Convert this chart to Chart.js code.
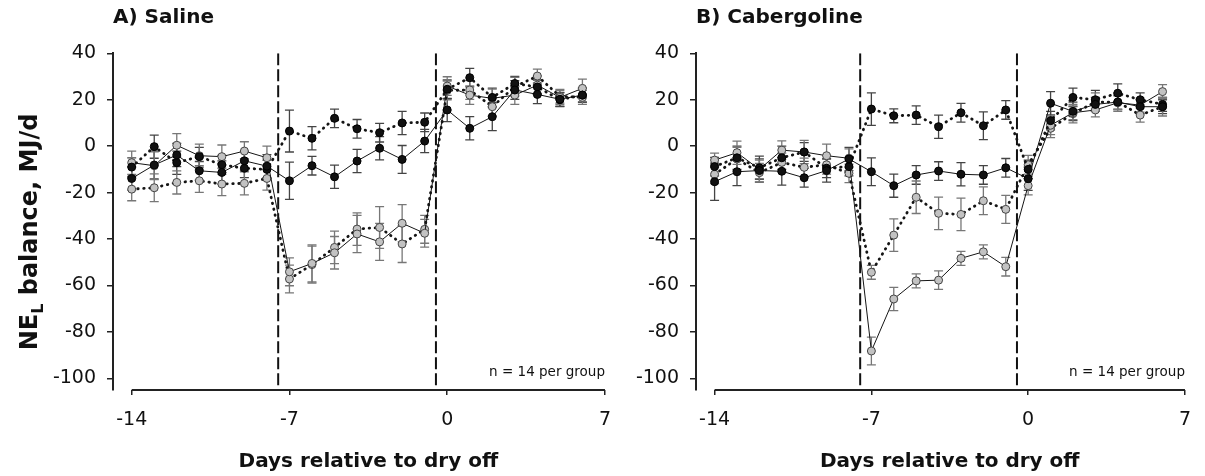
<!DOCTYPE html>
<html>
<head>
<meta charset="utf-8">
<title>NEL balance around dry off</title>
<script src="https://cdn.jsdelivr.net/npm/chart.js@4.4.0/dist/chart.umd.min.js"></script>
<style>
  body { margin: 0; background: #fff; }
  #wrap { position: relative; width: 1205px; height: 476px; }
  canvas { position: absolute; top: 0; }
  #chartA { left: 0; }
  #chartB { left: 625px; }
</style>
</head>
<body>
<div id="wrap">
  <canvas id="chartA" width="625" height="476"></canvas>
  <canvas id="chartB" width="580" height="476"></canvas>
</div>
<script>
// days relative to dry off
const days = [-14, -13, -12, -11, -10, -9, -8, -7, -6, -5, -4, -3, -2, -1, 0, 1, 2, 3, 4, 5, 6];
const xTicks = [-14, -7, 0, 7];
const yTicks = [-100, -80, -60, -40, -20, 0, 20, 40];
const periodMarks = [-7.5, -0.5];

// A) Saline
const salineBlackSolid = [-13.9, -8.1, -3.8, -10.6, -11.3, -6.3, -8.6, -14.9, -8.4, -13.2, -6.4, -0.9, -5.7, 2.2, 15.6, 7.7, 12.7, 24.2, 22.3, 20.2, 22];
const salineBlackSolidSem = [5, 6, 5, 4, 5, 4, 5, 8, 4, 5, 5, 5, 6, 5, 5, 5, 6, 4, 4, 3, 3];
const salineBlackDotted = [-9, -0.2, -7.1, -4.5, -8, -9.5, -10, 6.5, 3.4, 12, 7.5, 5.8, 10, 10.3, 24.5, 29.5, 21, 27, 25.5, 20, 22];
const salineBlackDottedSem = [4, 5, 5, 4, 4, 4, 4, 9, 5, 4, 4, 4, 5, 4, 4, 4, 4, 3, 3, 3, 3];
const salineGraySolid = [-7.1, -8.4, 0.4, -4.1, -4.5, -2.1, -5.0, -54.1, -50.5, -45.9, -37.8, -41.2, -33.2, -37.5, 25.9, 22, 20.6, 22, 26.3, 21, 24.9];
const salineGraySolidSem = [5, 6, 5, 5, 5, 4, 5, 6, 8, 7, 8, 8, 8, 6, 4, 4, 4, 4, 4, 3, 4];
const salineGrayDotted = [-18.5, -17.9, -15.6, -14.9, -16.3, -16, -13.9, -57.2, -51, -43.6, -35.7, -35, -42.1, -35.8, 24, 24.2, 17, 25.6, 30.2, 21.5, 21];
const salineGrayDottedSem = [5, 6, 5, 5, 5, 5, 5, 6, 8, 7, 7, 9, 8, 6, 4, 4, 4, 4, 3, 3, 3];

// B) Cabergoline
const caberBlackSolid = [-15.3, -11, -10.5, -10.8, -13.6, -10.5, -5.5, -11, -17, -12.4, -10.7, -12.1, -12.4, -9.3, -14, 18.5, 15, 18, 19, 17, 17];
const caberBlackSolidSem = [8, 6, 5, 6, 4, 5, 5, 6, 5, 4, 4, 5, 4, 4, 5, 5, 4, 3, 3, 3, 3];
const caberBlackDotted = [-8.8, -5, -9.3, -5, -2.5, -9.5, -8.8, 16, 13.1, 13.4, 8.4, 14.4, 8.8, 15.6, -10, 11, 21, 20, 22.8, 20, 18];
const caberBlackDottedSem = [4, 5, 5, 5, 4, 4, 4, 7, 3, 4, 5, 4, 6, 4, 4, 4, 4, 4, 4, 3, 3];
const caberGraySolid = [-6, -2.8, -10, -1.7, -2.5, -4.1, -5.2, -88.2, -65.8, -58, -57.7, -48.3, -45.5, -51.9, -17, 9, 14.4, 15.6, 18.7, 17.7, 23.5];
const caberGraySolidSem = [3, 5, 4, 4, 5, 5, 4, 6, 5, 3, 4, 3, 3, 4, 4, 4, 3, 3, 3, 3, 3];
const caberGrayDotted = [-12.1, -5.5, -11.4, -7, -9.1, -8, -11.7, -54.3, -38.3, -22, -28.9, -29.4, -23.5, -27.2, -8, 7.7, 14, 19, 19, 13.4, 17];
const caberGrayDottedSem = [4, 5, 4, 4, 4, 4, 4, 3, 7, 7, 7, 7, 6, 6, 4, 4, 4, 4, 4, 3, 4];

Chart.defaults.font.family = 'DejaVu Sans';
Chart.defaults.color = '#111';

const FONT = 'DejaVu Sans';
const AXIS_BOTTOM = 390;

function points(values) {
  return days.map((d, i) => ({ x: d, y: values[i] }));
}

function series(values, sem, dotted, gray) {
  return {
    data: points(values),
    sem: sem,
    semColor: gray ? '#777' : '#444',
    borderColor: '#151515',
    borderWidth: dotted ? 2.8 : 1,
    borderDash: dotted ? [0.5, 5.5] : [],
    borderCapStyle: dotted ? 'round' : 'butt',
    pointRadius: 4,
    pointBorderWidth: 1,
    pointBackgroundColor: gray ? '#c2c2c2' : '#111',
    pointBorderColor: gray ? '#444' : '#000',
    tension: 0
  };
}

function periodLine(x) {
  return {
    data: [{ x: x, y: 40 }, { x: x, y: -105 }],
    borderColor: '#111',
    borderWidth: 2,
    borderDash: [12, 4],
    pointRadius: 0
  };
}

// SEM whiskers, drawn under the lines and markers
const semBars = {
  id: 'semBars',
  beforeDatasetsDraw(chart) {
    const ctx = chart.ctx;
    const xs = chart.scales.x, ys = chart.scales.y;
    chart.data.datasets.forEach(ds => {
      if (!ds.sem) return;
      ctx.save();
      ctx.strokeStyle = ds.semColor;
      ctx.lineWidth = 1.3;
      ds.data.forEach((p, j) => {
        const px = xs.getPixelForValue(p.x);
        const top = ys.getPixelForValue(p.y + ds.sem[j]);
        const bot = ys.getPixelForValue(p.y - ds.sem[j]);
        ctx.beginPath();
        ctx.moveTo(px, top); ctx.lineTo(px, bot);
        ctx.moveTo(px - 4.5, top); ctx.lineTo(px + 4.5, top);
        ctx.moveTo(px - 4.5, bot); ctx.lineTo(px + 4.5, bot);
        ctx.stroke();
      });
      ctx.restore();
    });
  }
};

// x axis line from -14 to 7, axis title and the group size note
const axisExtras = {
  id: 'axisExtras',
  afterDraw(chart, args, opts) {
    const ctx = chart.ctx;
    const xs = chart.scales.x;
    const x0 = xs.getPixelForValue(xTicks[0]);
    const x1 = xs.getPixelForValue(xTicks[xTicks.length - 1]);
    const yb = chart.chartArea.bottom;
    ctx.save();
    ctx.strokeStyle = '#222';
    ctx.lineWidth = 2;
    ctx.beginPath();
    ctx.moveTo(x0, yb); ctx.lineTo(x1, yb);
    ctx.stroke();

    ctx.fillStyle = '#111';
    ctx.textBaseline = 'middle';
    ctx.font = 'bold 20px "' + FONT + '"';
    ctx.textAlign = 'center';
    ctx.fillText('Days relative to dry off', (x0 + x1) / 2, 462);

    ctx.font = '13.5px "' + FONT + '"';
    ctx.textAlign = 'right';
    ctx.fillText('n = 14 per group', x1, 372);

    if (opts.yTitle) {
      ctx.translate(31, 232);
      ctx.rotate(-Math.PI / 2);
      ctx.textAlign = 'left';
      const big = 'bold 24px "' + FONT + '"';
      const small = 'bold 16px "' + FONT + '"';
      ctx.font = big;
      const w1 = ctx.measureText('NE').width;
      const w3 = ctx.measureText(' balance, MJ/d').width;
      ctx.font = small;
      const w2 = ctx.measureText('L').width;
      let x = -(w1 + w2 + w3) / 2;
      ctx.font = big;
      ctx.fillText('NE', x, 0);
      x += w1;
      ctx.font = small;
      ctx.fillText('L', x, 8);
      x += w2;
      ctx.font = big;
      ctx.fillText(' balance, MJ/d', x, 0);
    }
    ctx.restore();
  }
};

function makePanel(id, title, sets, axisLeft, rightPad, yTitle) {
  return new Chart(document.getElementById(id), {
    type: 'line',
    data: {
      datasets: [
        series(sets[0], sets[1], false, false),
        series(sets[2], sets[3], true, false),
        series(sets[4], sets[5], false, true),
        series(sets[6], sets[7], true, true),
        periodLine(periodMarks[0]),
        periodLine(periodMarks[1])
      ]
    },
    options: {
      responsive: false,
      animation: false,
      layout: { padding: { left: 0, right: rightPad, top: 0, bottom: 0 } },
      plugins: {
        legend: { display: false },
        tooltip: { enabled: false },
        title: {
          display: true,
          text: title,
          align: 'start',
          fullSize: false,
          color: '#111',
          font: { size: 20, weight: 'bold' },
          padding: { top: 6, bottom: 23.3 }
        },
        axisExtras: { yTitle: yTitle }
      },
      scales: {
        x: {
          type: 'linear',
          min: -14.83,
          max: 7,
          afterBuildTicks: s => { s.ticks = xTicks.map(v => ({ value: v })); },
          afterFit: s => { s.height = 476 - AXIS_BOTTOM; },
          border: { display: false },
          grid: { drawOnChartArea: false, drawTicks: true, tickLength: 5, color: '#222', lineWidth: 1.5 },
          ticks: { font: { size: 19 }, color: '#111', padding: 14, maxRotation: 0 }
        },
        y: {
          min: -105,
          max: 40,
          afterBuildTicks: s => { s.ticks = yTicks.map(v => ({ value: v })); },
          afterFit: s => { s.width = axisLeft; },
          border: { display: true, color: '#222', width: 2 },
          grid: { drawOnChartArea: false, drawTicks: true, tickLength: 6, color: '#222', lineWidth: 1.5 },
          ticks: { font: { size: 19 }, color: '#111', padding: 11 }
        }
      }
    },
    plugins: [semBars, axisExtras]
  });
}

makePanel('chartA', 'A) Saline', [
  salineBlackSolid, salineBlackSolidSem,
  salineBlackDotted, salineBlackDottedSem,
  salineGraySolid, salineGraySolidSem,
  salineGrayDotted, salineGrayDottedSem
], 113, 13, true);

makePanel('chartB', 'B) Cabergoline', [
  caberBlackSolid, caberBlackSolidSem,
  caberBlackDotted, caberBlackDottedSem,
  caberGraySolid, caberGraySolidSem,
  caberGrayDotted, caberGrayDottedSem
], 71, 10, false);
</script>
</body>
</html>
